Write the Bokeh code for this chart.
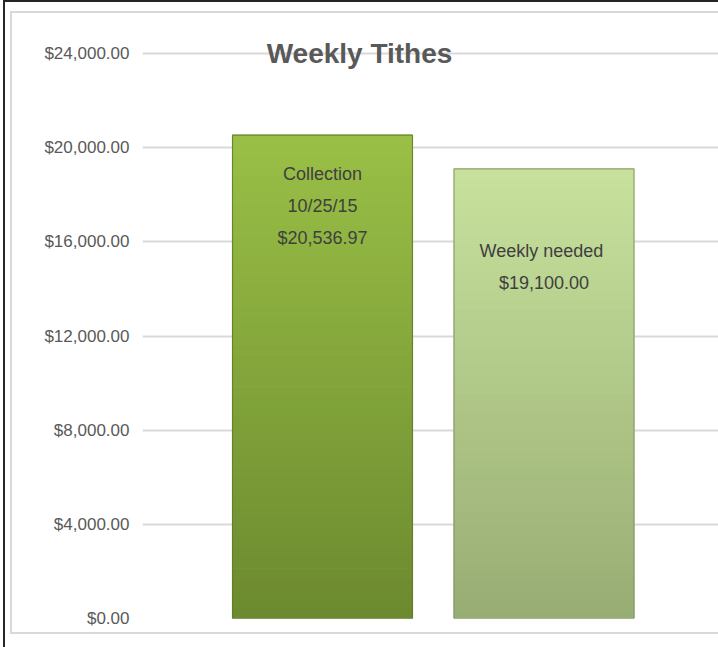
from bokeh.plotting import figure
from bokeh.models import Range1d, FixedTicker, NumeralTickFormatter, Label, ColumnDataSource
from bokeh.core.properties import value
from bokeh.embed import file_html
from bokeh.resources import INLINE

# ---- data ----
categories = ["Collection\n10/25/15", "Weekly  needed"]
amounts = [20536.97, 19100.00]
y_ticks = [0, 4000, 8000, 12000, 16000, 20000, 24000]
title_text = "Weekly Tithes"

# ---- layout / style constants ----
W, H = 715, 647
FRAME_LEFT = 139
FRAME_TOP = 20
FRAME_BOTTOM_PAD = 29
STEP_PX = 221.5          # pixels between category centers
BAR_PX = 180.0           # bar width in pixels
FIRST_CENTER_PX = 180.0  # first bar center from frame left
GRID_SPAN_PX = 565.0     # pixels from 0 to top tick
FONT = "'Liberation Sans Narrow', 'Liberation Sans', Arial, sans-serif"
LABEL_OFFSETS = [71, 98]  # px below bar top of the label block centre
TOP_COLORS = ["#99bf46", "#c7e19c"]
BOTTOM_COLORS = ["#6c8a2f", "#98ad74"]
EDGE_COLORS = ["#5d7a26", "#7f9463"]

frame_w = W - FRAME_LEFT
frame_h = H - FRAME_TOP - FRAME_BOTTOM_PAD
x_start = -FIRST_CENTER_PX / STEP_PX
x_end = x_start + frame_w / STEP_PX
y_end = y_ticks[-1] * frame_h / GRID_SPAN_PX
bar_w = BAR_PX / STEP_PX

shadow = ", ".join([
    "inset 2px 2px 0 0 #262626",
    "inset 0 -13px 0 0 #ffffff",
    "inset 7px 11px 0 0 #ffffff",
    "inset 0 -15px 0 0 #d9d9d9",
    "inset 9px 13px 0 0 #d9d9d9",
])

p = figure(width=W, height=H, output_backend="svg", toolbar_location=None,
           x_range=Range1d(x_start, x_end), y_range=Range1d(0, y_end),
           x_axis_location=None,
           min_border_left=FRAME_LEFT, min_border_right=0,
           min_border_top=FRAME_TOP, min_border_bottom=FRAME_BOTTOM_PAD,
           border_fill_color=None, background_fill_color="white",
           outline_line_color=None,
           styles={"margin-left": "3px", "box-shadow": shadow})

p.xgrid.grid_line_color = None
p.ygrid.grid_line_color = "#d9d9d9"
p.ygrid.grid_line_width = 2
p.yaxis.ticker = FixedTicker(ticks=y_ticks)
p.yaxis.formatter = NumeralTickFormatter(format="$0,0.00")
p.yaxis.axis_line_color = None
p.yaxis.major_tick_line_color = None
p.yaxis.minor_tick_line_color = None
p.yaxis.major_tick_in = 0
p.yaxis.major_tick_out = 0
p.yaxis.major_label_standoff = 13
p.yaxis.major_label_text_font = FONT
p.yaxis.major_label_text_font_size = "17px"
p.yaxis.major_label_text_color = "#595959"


def hex2rgb(h):
    h = h.lstrip("#")
    return [int(h[i:i + 2], 16) for i in (0, 2, 4)]


def lerp(c1, c2, t):
    a, b = hex2rgb(c1), hex2rgb(c2)
    return "#%02x%02x%02x" % tuple(int(round(a[i] + (b[i] - a[i]) * t)) for i in range(3))


# gradient slices of each bar (derived from the data values)
N = 48
xs, bots, tops, cols = [], [], [], []
for i, v in enumerate(amounts):
    for k in range(N):
        xs.append(i)
        bots.append(v * k / N)
        tops.append(v * (k + 1) / N)
        cols.append(lerp(BOTTOM_COLORS[i], TOP_COLORS[i], k / (N - 1)))
grad = ColumnDataSource(dict(x=xs, bottom=bots, top=tops, color=cols))
p.vbar(x="x", bottom="bottom", top="top", width=bar_w, source=grad,
       fill_color="color", line_color="color", line_width=1)

bars = ColumnDataSource(dict(x=list(range(len(amounts))), top=amounts, edge=EDGE_COLORS))
p.vbar(x="x", top="top", bottom=0, width=bar_w, source=bars,
       fill_color=None, line_color="edge", line_width=1.2, line_alpha=0.8)

labels = [f"{c}\n${a:,.2f}" for c, a in zip(categories, amounts)]
lab_src = ColumnDataSource(dict(x=list(range(len(amounts))), y=amounts, text=labels,
                                off=LABEL_OFFSETS))
p.text(x="x", y="y", text="text", source=lab_src, y_offset="off",
       text_align="center", text_baseline="middle",
       text_font=value(FONT), text_font_size="18px", text_color="#3f3f3f",
       text_line_height=1.58)

title = Label(x=x_start + (359 - 142) / STEP_PX, y=y_ticks[-1], text=title_text,
              text_align="center", text_baseline="alphabetic",
              text_font=FONT, text_font_size="28px", text_font_style="bold",
              text_color="#595959")
p.add_layout(title)

open("out.html", "w").write(file_html(p, INLINE))
